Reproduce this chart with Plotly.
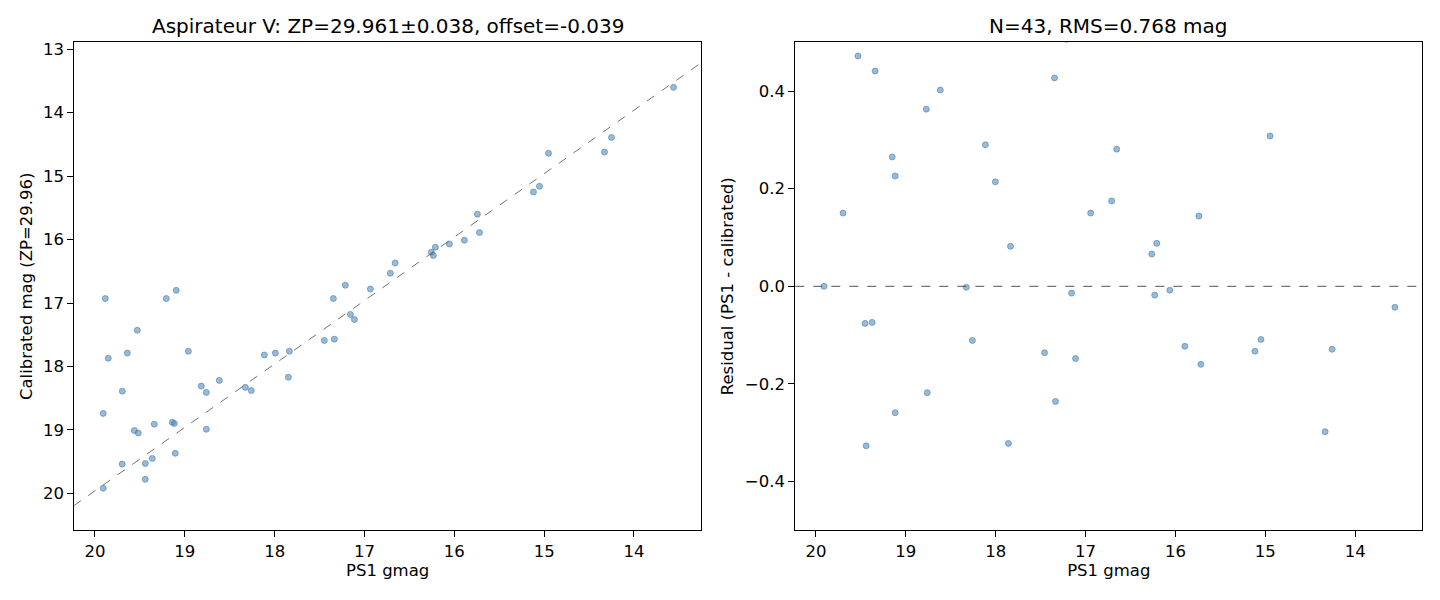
import plotly.graph_objects as go
from plotly.subplots import make_subplots

# --- data ---
OFFSET = -0.039

# left panel: PS1 gmag vs calibrated magnitude
cal_ps1 = [19.885, 19.206, 19.095, 19.529, 19.852, 19.640, 18.961, 19.696, 18.816, 18.761,
           18.616, 19.908, 19.562, 19.518, 19.340, 19.139, 19.117, 18.761, 19.106, 19.697,
           19.440, 19.362, 19.440, 19.908, 18.326, 18.260, 18.115, 17.992, 17.836, 17.847,
           17.447, 17.335, 17.346, 17.213, 17.157, 17.112, 16.934, 16.712, 16.659, 16.255,
           16.233, 16.211, 16.055, 15.888, 15.743, 15.720, 15.119, 15.052, 14.952, 14.328,
           14.250, 13.560]
cal_mag = [16.93, 16.93, 16.80, 17.43, 17.87, 17.79, 17.76, 18.39, 18.31, 18.41,
           18.22, 18.74, 19.01, 19.05, 18.91, 18.88, 18.90, 18.99, 19.37, 19.54,
           19.53, 19.45, 19.78, 19.92, 18.33, 18.38, 17.82, 17.79, 17.76, 18.17,
           17.59, 17.57, 16.93, 16.72, 17.18, 17.26, 16.78, 16.53, 16.37, 16.20,
           16.25, 16.12, 16.07, 16.01, 15.60, 15.89, 15.25, 15.16, 14.64, 14.62,
           14.39, 13.60]

# right panel: PS1 gmag vs residual (PS1 - calibrated)
res_ps1 = [19.532, 19.342, 18.617, 18.773, 17.346, 19.152, 19.119, 18.115, 18.004, 19.699,
           16.654, 16.710, 16.944, 17.836, 19.911, 18.327, 17.156, 19.454, 19.375, 18.260,
           17.457, 17.112, 18.762, 19.119, 17.335, 19.442, 17.859, 14.948, 15.740, 16.208,
           16.264, 16.063, 16.231, 13.558, 15.896, 15.718, 15.049, 15.116, 14.257, 14.335,
           17.213]
res_val = [0.472, 0.441, 0.402, 0.363, 0.427, 0.265, 0.226, 0.290, 0.214, 0.150,
           0.281, 0.175, 0.150, 0.082, 0.000, -0.002, -0.014, -0.076, -0.074, -0.111,
           -0.136, -0.148, -0.218, -0.259, -0.236, -0.327, -0.322, 0.308, 0.144, 0.088,
           0.066, -0.008, -0.018, -0.043, -0.123, -0.160, -0.109, -0.133, -0.129, -0.298,
           0.506]

X_RANGE = [20.23, 13.254]
FONT = "DejaVu Sans"
MARKER = dict(size=6, color="rgba(70,130,180,0.55)",
              line=dict(width=0.8, color="rgba(70,130,180,0.75)"))
LEFT_DOM = [0.0516, 0.4868]
RIGHT_DOM = [0.5523, 0.9877]

fig = make_subplots(rows=1, cols=2)

fig.add_trace(go.Scatter(x=cal_ps1, y=cal_mag, mode="markers", marker=MARKER,
                         showlegend=False), row=1, col=1)
# one-to-one line shifted by the fitted offset
line_x = [X_RANGE[0] + 0.5, X_RANGE[1] - 0.5]
fig.add_trace(go.Scatter(x=line_x, y=[v + OFFSET for v in line_x], mode="lines",
                         line=dict(color="rgba(80,80,80,0.8)", width=1, dash="dash"),
                         showlegend=False), row=1, col=1)

fig.add_trace(go.Scatter(x=res_ps1, y=res_val, mode="markers", marker=MARKER,
                         showlegend=False), row=1, col=2)
fig.add_hline(y=0, line=dict(color="rgba(80,80,80,0.8)", width=1.2, dash="dash"),
              row=1, col=2)

axis_common = dict(showline=True, mirror=True, linecolor="black", linewidth=1.2,
                   ticks="outside", ticklen=6, tickwidth=1.1, tickcolor="black",
                   showgrid=False, zeroline=False, automargin=False,
                   tickfont=dict(family=FONT, size=16.5, color="black"),
                   title_font=dict(family=FONT, size=16.5, color="black"))

fig.update_xaxes(**axis_common, range=X_RANGE, dtick=1, tick0=0,
                 title_text="PS1 gmag", title_standoff=4)
fig.update_xaxes(domain=LEFT_DOM, row=1, col=1)
fig.update_xaxes(domain=RIGHT_DOM, row=1, col=2)

fig.update_yaxes(**axis_common, domain=[0.1162, 0.9295])
fig.update_yaxes(range=[20.583, 12.89], dtick=1, tick0=0,
                 title_text="Calibrated mag (ZP=29.96)", title_standoff=6, row=1, col=1)
fig.update_yaxes(range=[-0.5, 0.5], dtick=0.2, tick0=0, tickformat=".1f",
                 title_text="Residual (PS1 - calibrated)", title_standoff=7, row=1, col=2)

title_font = dict(family=FONT, size=20, color="black")
fig.add_annotation(text="Aspirateur V: ZP=29.961±0.038, offset=-0.039",
                   xref="paper", yref="paper", x=sum(LEFT_DOM) / 2, y=0.956,
                   showarrow=False, font=title_font, xanchor="center", yanchor="middle")
fig.add_annotation(text="N=43, RMS=0.768 mag",
                   xref="paper", yref="paper", x=sum(RIGHT_DOM) / 2, y=0.956,
                   showarrow=False, font=title_font, xanchor="center", yanchor="middle")

fig.update_layout(
    width=1440,
    height=600,
    margin=dict(l=0, r=0, t=0, b=0),
    plot_bgcolor="white",
    paper_bgcolor="white",
    font=dict(family=FONT, color="black"),
)

# drop the browser's default body margin so the figure sits at the page origin
fig.write_html("out.html", config={"displayModeBar": False},
               post_script="document.body.style.margin='0';")
